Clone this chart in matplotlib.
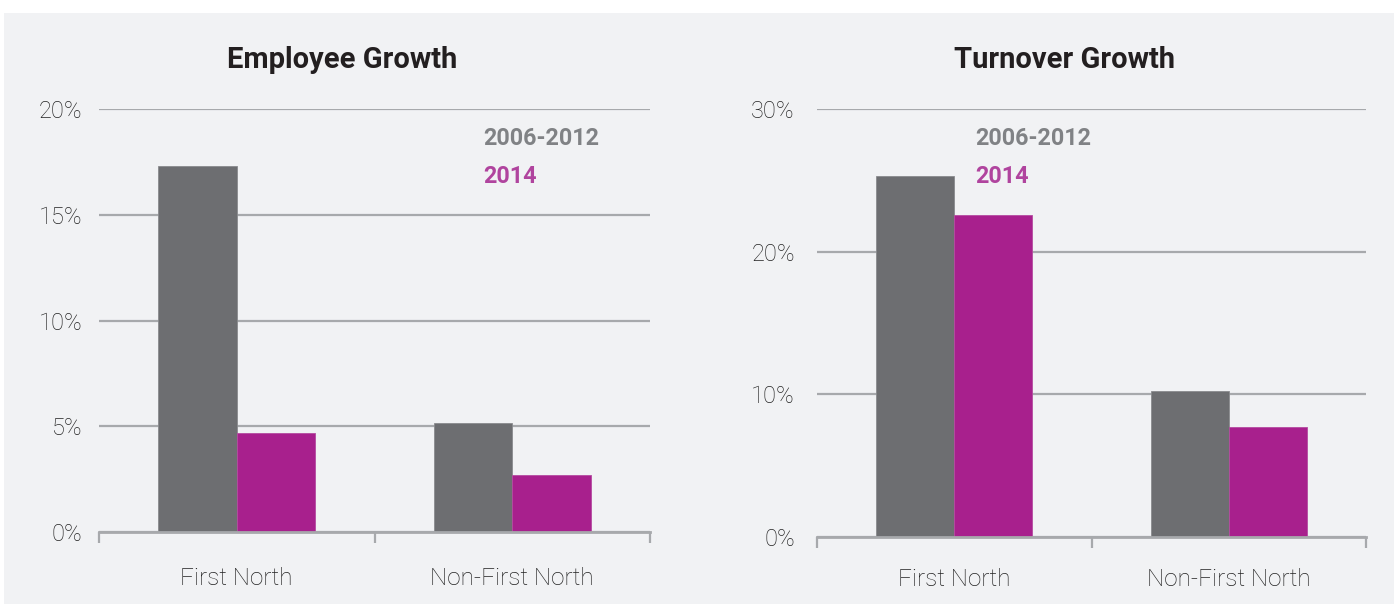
import matplotlib.pyplot as plt
from matplotlib.patches import Rectangle
from matplotlib.ticker import FuncFormatter
import numpy as np

# data
categories = ["First North", "Non-First North"]
series_labels = ["2006-2012", "2014"]
employee_2006_2012 = [17.3, 5.15]
employee_2014 = [4.7, 2.7]
turnover_2006_2012 = [25.3, 10.2]
turnover_2014 = [22.6, 7.7]
employee_ticks = [0, 5, 10, 15, 20]
turnover_ticks = [0, 10, 20, 30]

BG = "#f1f2f4"
GRID = "#a7a9ac"
BAR_GRAY = "#6d6e71"
BAR_MAGENTA = "#a8208d"
LEG_GRAY = "#808285"
LEG_MAGENTA = "#b0449e"
TEXT = "#222222"

plt.rcParams["font.family"] = ["Roboto", "DejaVu Sans"]

fig = plt.figure(figsize=(13.94, 6.04), dpi=100, facecolor="white")
fig.patches.append(Rectangle((4 / 1394, 0), 1 - 4 / 1394, 1 - 13 / 604,
                             transform=fig.transFigure, facecolor=BG,
                             edgecolor="none", zorder=-5))


def draw_panel(rect, title, title_x, first, second, ticks, tick_pad, cat_pad,
               leg_x, leg_y):
    ax = fig.add_axes(rect)
    ax.set_facecolor("none")
    x = np.arange(len(categories)) + 0.5
    w = 0.285
    ax.bar(x - w / 2, first, w, color=BAR_GRAY, edgecolor="#8a8b8e",
           linewidth=0.6, zorder=3)
    ax.bar(x + w / 2, second, w, color=BAR_MAGENTA, edgecolor="#b54aa0",
           linewidth=0.6, zorder=3)

    ax.set_xlim(0, len(categories))
    ax.set_ylim(0, ticks[-1])
    ax.set_yticks(ticks)
    ax.yaxis.set_major_formatter(FuncFormatter(lambda v, p: f"{v:.0f}%"))
    ax.grid(axis="y", color=GRID, linewidth=1.6, zorder=1)
    ax.set_axisbelow(True)

    ax.set_xticks(np.arange(len(categories) + 1))
    ax.set_xticklabels([])
    ax.set_xticks(x, minor=True)
    ax.set_xticklabels(categories, minor=True)
    ax.tick_params(axis="x", which="major", length=8, width=1.6, color=GRID,
                   direction="out")
    ax.tick_params(axis="x", which="minor", length=0, pad=cat_pad,
                   labelsize=17.5, labelcolor=TEXT)
    ax.tick_params(axis="y", length=0, pad=tick_pad, labelsize=17,
                   labelcolor=TEXT)
    for lab in ax.get_xticklabels(minor=True) + ax.get_yticklabels():
        lab.set_fontweight("light")

    for s in ["top", "right", "left"]:
        ax.spines[s].set_visible(False)
    ax.spines["bottom"].set_color(GRID)
    ax.spines["bottom"].set_linewidth(2)
    ax.spines["bottom"].set_zorder(4)

    ax.text(leg_x, leg_y[0], series_labels[0], transform=ax.transAxes,
            color=LEG_GRAY, fontsize=16.8, fontweight="bold", va="center", ha="left")
    ax.text(leg_x, leg_y[1], series_labels[1], transform=ax.transAxes,
            color=LEG_MAGENTA, fontsize=16.8, fontweight="bold", va="center", ha="left")

    fig.text(title_x, 1 - 60 / 604, title, ha="center", va="center",
             fontsize=21, fontweight="bold", color="#231f20")
    return ax


draw_panel([99 / 1394, 72 / 604, 551 / 1394, 423 / 604], "Employee Growth",
           342 / 1394, employee_2006_2012, employee_2014, employee_ticks, 12,
           25.5, 0.697, (0.930, 0.840))
draw_panel([817 / 1394, 67 / 604, 549 / 1394, 428 / 604], "Turnover Growth",
           1064 / 1394, turnover_2006_2012, turnover_2014, turnover_ticks, 16,
           22, 0.288, (0.931, 0.842))

fig.savefig("out.png", dpi=100, facecolor=fig.get_facecolor())
